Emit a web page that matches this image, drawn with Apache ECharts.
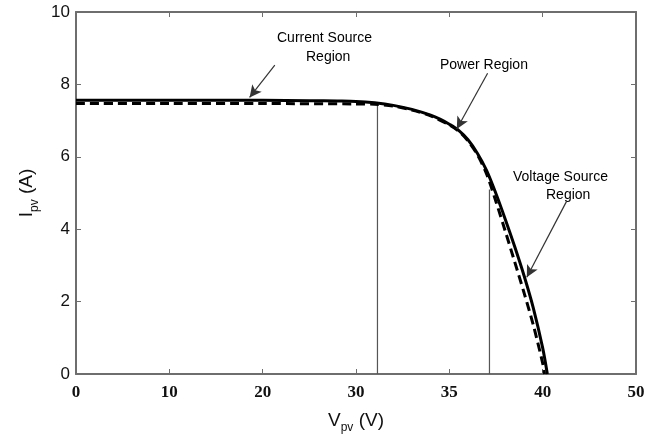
<!DOCTYPE html>
<html>
<head>
<meta charset="utf-8">
<script src="https://cdn.jsdelivr.net/npm/echarts@6/dist/echarts.min.js"></script>
<style>
  html, body { margin: 0; padding: 0; background: #fff; }
  #chart { width: 664px; height: 439px; }
</style>
</head>
<body>
<div id="chart"></div>
<script>
// x values are axis positions (ticks evenly spaced, labelled 0,10,20,30,35,40,50)
const xTickLabels = ['0', '10', '20', '30', '35', '40', '50'];
const yTickLabels = ['0', '2', '4', '6', '8', '10'];

// solid I-V curve
const solidX = [0, 10, 20, 25, 28, 30, 32, 34, 36, 38, 39, 40, 41, 42, 43, 44, 45, 46, 47, 48, 49, 50, 50.5];
const solidI = [7.56, 7.56, 7.56, 7.55, 7.54, 7.53, 7.49, 7.42, 7.31, 7.15, 7.04, 6.9, 6.73, 6.47, 6.1, 5.62, 4.98, 4.27, 3.52, 2.72, 1.82, 0.72, 0];

// dashed I-V curve
const dashX = [0, 10, 20, 30, 32, 34, 36, 38, 40, 41, 42, 43, 44, 45, 46, 47, 48, 49, 50, 50.2];
const dashI = [7.47, 7.47, 7.47, 7.46, 7.45, 7.4, 7.29, 7.13, 6.88, 6.71, 6.44, 6.06, 5.52, 4.76, 3.94, 3.1, 2.25, 1.35, 0.3, 0];

// region boundary lines: x position and top current
const boundaryX = [32.3, 44.3];
const boundaryTop = [7.45, 5.1];

// annotation arrows: [tailX, tailY, tipX, tipY]
const arrows = [
  [21.3, 8.53, 18.6, 7.64],
  [44.1, 8.31, 40.8, 6.77],
  [52.6, 4.79, 48.3, 2.67]
];

const chart = echarts.init(document.getElementById('chart'));

const frameColor = '#6e6e6e';
const sansFont = '"Liberation Sans", Arial, sans-serif';

const xBase = {
  type: 'value', min: 0, max: 60, interval: 10,
  axisLine: { show: true, onZero: false, lineStyle: { color: frameColor, width: 2 } },
  axisTick: { show: true, inside: true, length: 5, lineStyle: { color: frameColor, width: 1 } },
  splitLine: { show: false }
};
const yBase = {
  type: 'value', min: 0, max: 10, interval: 2,
  axisLine: { show: true, onZero: false, lineStyle: { color: frameColor, width: 2 } },
  axisTick: { show: true, inside: true, length: 5, lineStyle: { color: frameColor, width: 1 } },
  splitLine: { show: false }
};

const boundarySeries = boundaryX.map((x, i) => ({
  type: 'line',
  data: [[x, 0], [x, boundaryTop[i]]],
  symbol: 'none',
  silent: true,
  lineStyle: { color: '#555', width: 1.2 },
  z: 2
}));

const option = {
  backgroundColor: '#fff',
  animation: false,
  grid: { left: 76, right: 28, top: 12, bottom: 57 },
  xAxis: [
    Object.assign({}, xBase, {
      position: 'bottom',
      axisLabel: {
        formatter: v => xTickLabels[Math.round(v / 10)],
        color: '#111', fontFamily: '"Liberation Serif", "Times New Roman", serif',
        fontWeight: 'bold', fontSize: 17, margin: 10
      },
      name: '{m|V}{s|pv}{m| (V)}',
      nameLocation: 'middle',
      nameGap: 34,
      nameTextStyle: {
        rich: {
          m: { fontFamily: sansFont, fontSize: 19, color: '#111' },
          s: { fontFamily: sansFont, fontSize: 12, color: '#111', padding: [14, 0, 0, 0] }
        }
      }
    }),
    Object.assign({}, xBase, { position: 'top', axisLabel: { show: false } })
  ],
  yAxis: [
    Object.assign({}, yBase, {
      position: 'left',
      axisLabel: {
        formatter: v => yTickLabels[Math.round(v / 2)],
        color: '#111', fontFamily: sansFont, fontSize: 17, margin: 6
      },
      name: '{m|I}{s|pv}{m| (A)}',
      nameLocation: 'middle',
      nameRotate: 90,
      nameGap: 33,
      nameTextStyle: {
        rich: {
          m: { fontFamily: sansFont, fontSize: 19, color: '#111' },
          s: { fontFamily: sansFont, fontSize: 12, color: '#111', padding: [14, 0, 0, 0] }
        }
      }
    }),
    Object.assign({}, yBase, { position: 'right', axisLabel: { show: false } })
  ],
  series: boundarySeries.concat([
    {
      name: 'solid',
      type: 'line',
      data: solidX.map((x, i) => [x, solidI[i]]),
      symbol: 'none',
      smooth: 0.3,
      lineStyle: { color: '#000', width: 3 },
      z: 4
    },
    {
      name: 'dashed',
      type: 'line',
      data: dashX.map((x, i) => [x, dashI[i]]),
      symbol: 'none',
      smooth: 0.3,
      lineStyle: { color: '#000', width: 3, type: [9, 5] },
      z: 3,
      markLine: {
        silent: true,
        symbol: ['none', 'arrow'],
        symbolSize: [9, 12],
        label: { show: false },
        lineStyle: { color: '#333', width: 1.2, type: 'solid' },
        data: arrows.map(a => [{ coord: [a[0], a[1]] }, { coord: [a[2], a[3]] }])
      }
    }
  ]),
  graphic: [
    { type: 'text', left: 277, top: 31, style: { text: 'Current Source', font: '14px ' + sansFont, fill: '#000' } },
    { type: 'text', left: 306, top: 50, style: { text: 'Region', font: '14px ' + sansFont, fill: '#000' } },
    { type: 'text', left: 440, top: 58, style: { text: 'Power Region', font: '14px ' + sansFont, fill: '#000' } },
    { type: 'text', left: 513, top: 170, style: { text: 'Voltage Source', font: '14px ' + sansFont, fill: '#000' } },
    { type: 'text', left: 546, top: 188, style: { text: 'Region', font: '14px ' + sansFont, fill: '#000' } }
  ]
};

chart.setOption(option);
</script>
</body>
</html>
